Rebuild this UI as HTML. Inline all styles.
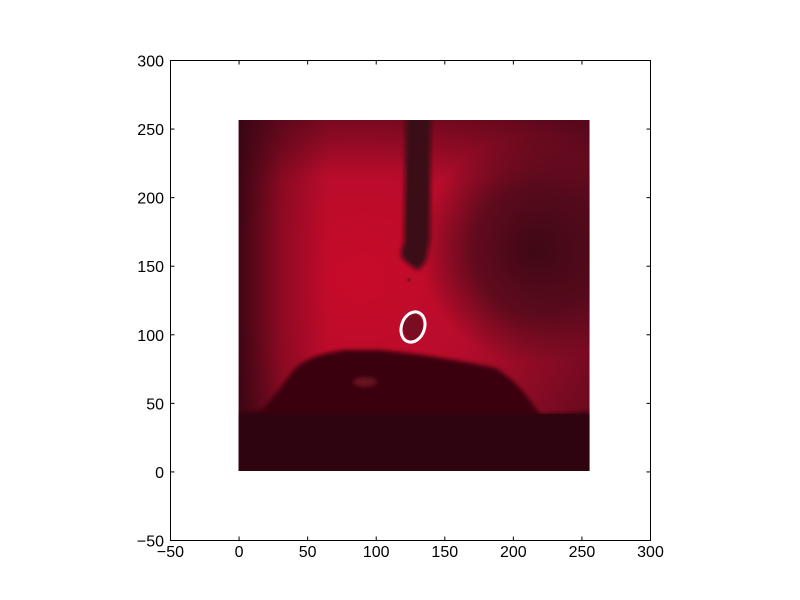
<!DOCTYPE html>
<html><head><meta charset="utf-8"><style>
body{margin:0;background:#fff;width:800px;height:600px;overflow:hidden}
svg{display:block}
text{font-family:"Liberation Sans",sans-serif;font-size:16px;fill:#000}
</style></head><body>
<svg id="chart" width="800" height="600">
<defs>
<radialGradient id="bg" cx="0.35" cy="0.45" r="0.75">
<stop offset="0" stop-color="#c80a2a"/><stop offset="0.45" stop-color="#b80c2b"/><stop offset="1" stop-color="#6a0a20"/>
</radialGradient>
<linearGradient id="leftdark" x1="0" x2="1">
<stop offset="0" stop-color="#2a0510" stop-opacity="0.85"/><stop offset="0.5" stop-color="#2a0510" stop-opacity="0.3"/><stop offset="1" stop-color="#2a0510" stop-opacity="0"/>
</linearGradient>
<linearGradient id="topdark" x1="0" x2="0" y1="0" y2="1">
<stop offset="0" stop-color="#3a0614" stop-opacity="0.4"/><stop offset="1" stop-color="#3a0614" stop-opacity="0"/>
</linearGradient>
<radialGradient id="spot"><stop offset="0" stop-color="#340712" stop-opacity="0.9"/><stop offset="0.55" stop-color="#400a18" stop-opacity="0.7"/><stop offset="1" stop-color="#400a18" stop-opacity="0"/></radialGradient>
<filter id="blur" x="-20%" y="-20%" width="140%" height="140%"><feGaussianBlur stdDeviation="2"/></filter>
<clipPath id="imgclip"><rect x="238.6" y="120" width="351" height="351"/></clipPath>
</defs>
<g id="photo" clip-path="url(#imgclip)">
<rect x="238.6" y="120" width="351" height="351" fill="url(#bg)"/>
<rect x="238.6" y="120" width="90" height="351" fill="url(#leftdark)"/>
<rect x="238.6" y="120" width="351" height="60" fill="url(#topdark)"/>
<circle cx="535" cy="250" r="115" fill="url(#spot)"/>
<path d="M238 412 L262 410 Q278 392 292 372 Q305 355 345 350 L380 350 Q440 356 495 368 Q515 380 528 398 L540 414 L590 412 L590 472 L238 472 Z" fill="#3a0611" filter="url(#blur)"/>
<rect x="238.6" y="414" width="351" height="58" fill="#2e0410"/>
<ellipse cx="365" cy="382" rx="12" ry="5" fill="#7a1a2a" opacity="0.7" filter="url(#blur)"/>
<path d="M406 110 L431 110 L430 240 L428 250 Q428 262 418 270 Q410 266 402 258 Q400 250 404 244 Z" fill="#3a0a14" filter="url(#blur)"/>
<circle cx="409" cy="280" r="2" fill="#8a1020"/>
<ellipse cx="413" cy="327" rx="10" ry="14" fill="#6a0e20" opacity="0.8"/>
</g>
<ellipse cx="413" cy="327" rx="11.5" ry="15.5" transform="rotate(20 413 327)" fill="none" stroke="#fff" stroke-width="3"/>
<rect x="170.5" y="60.5" width="480" height="480" fill="none" stroke="#000" stroke-width="1"/>
<g id="axes"></g>
</svg>
<script>
const xTicks=[-50,0,50,100,150,200,250,300];
const yTicks=[-50,0,50,100,150,200,250,300];
const X0=170.5,X1=650.5,Y0=540.5,Y1=60.5,DMIN=-50,DMAX=300;
function sx(v){return X0+(v-DMIN)/(DMAX-DMIN)*(X1-X0);}
function sy(v){return Y0-(v-DMIN)/(DMAX-DMIN)*(Y0-Y1);}
const ns="http://www.w3.org/2000/svg",g=document.getElementById('axes');
function mk(t,a){const e=document.createElementNS(ns,t);for(const k in a)e.setAttribute(k,a[k]);g.appendChild(e);return e;}
xTicks.forEach(v=>{const x=sx(v);
[[Y0,Y0-4],[Y1,Y1+4]].forEach(p=>{const l=mk('line',{x1:x,x2:x,y1:p[0],y2:p[1],stroke:'#000'});

});
const t=mk('text',{x:x,y:557,'text-anchor':'middle'});t.textContent=String(v).replace('-','\u2212');

});
yTicks.forEach(v=>{const y=sy(v);
[[X0,X0+4],[X1,X1-4]].forEach(p=>{const l=mk('line',{x1:p[0],x2:p[1],y1:y,y2:y,stroke:'#000'});

});
const t=mk('text',{x:164,y:y+6,'text-anchor':'end'});t.textContent=String(v).replace('-','\u2212');

});
</script>
</body></html>
